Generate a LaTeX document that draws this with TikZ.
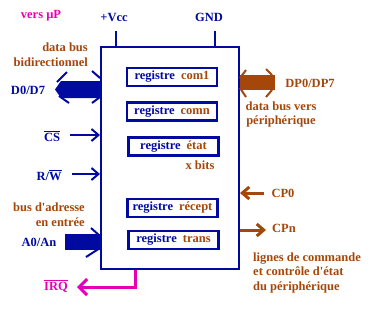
\documentclass[tikz,border=0pt]{standalone}
\usepackage{fontspec}
\setmainfont{Liberation Serif}
\usepackage{textcomp}
\usetikzlibrary{arrows.meta}
\definecolor{bleu}{RGB}{0,10,160}
\definecolor{brun}{RGB}{165,70,10}
\definecolor{rose}{RGB}{230,0,180}
\tikzset{
  txt/.style={font=\fontsize{12.5}{14.5}\selectfont\bfseries, inner sep=0pt},
  reg/.style={txt, draw=bleu, line width=2.5pt, minimum width=90pt, minimum height=18pt},
  fil/.style={line width=2pt, -{Straight Barb[length=7pt,width=12pt]}},
  chevron/.style={line width=2pt},
}
\begin{document}
\begin{tikzpicture}[x=1pt,y=-1pt]
  \useasboundingbox (0,0) rectangle (379,314);

  % Boitier du circuit
  \node[draw=bleu, line width=2pt, minimum width=138pt, minimum height=222pt, inner sep=0pt] (boitier) at (170,158) {};

  % Registres internes
  \node[reg] (com1) at (172,77) {\textcolor{bleu}{registre}\hspace{6pt}\textcolor{brun}{com1}};
  \node[reg] (comn) at (172,111.5) {\textcolor{bleu}{registre}\hspace{6pt}\textcolor{brun}{comn}};
  \node[reg] (etat) at (173.5,146.5) {\textcolor{bleu}{registre}\hspace{6pt}\textcolor{brun}{état}};
  \node[reg] (recept) at (172.5,208) {\textcolor{bleu}{registre}\hspace{6pt}\textcolor{brun}{récept}};
  \node[reg] (trans) at (173.5,240) {\textcolor{bleu}{registre}\hspace{6pt}\textcolor{brun}{trans}};
  \node[txt, brun] (xbits) at (200,165) {x bits};

  % Alimentation
  \node[txt, rose] (versmp) at (41,16) {vers µP};
  \node[txt, bleu] (vcc) at (114,17) {+Vcc};
  \node[txt, bleu] (gnd) at (209,17) {GND};
  \coordinate (vccpin) at (116,31);
  \coordinate (gndpin) at (215,31);
  \draw[bleu, line width=2pt] (vccpin) -- (vccpin |- boitier.north);
  \draw[bleu, line width=2pt] (gndpin) -- (gndpin |- boitier.north);

  % Bus de donnees cote microprocesseur
  \node[txt, brun, align=right, anchor=east] (dbus) at (88,54.5) {data bus\\bidirectionnel};
  \node[txt, bleu] (d0d7) at (28,90) {D0/D7};
  \fill[bleu] (55,89.5) -- (61,81) -- (100,81) -- (100,98) -- (61,98) -- cycle;
  \draw[bleu, chevron] (67,72) -- (57,82) (59,96) -- (69,103) (92,71) -- (100,78) (92,103) -- (100,97);

  % Signaux de controle
  \node[txt, bleu] (cs) at (52,136) {$\overline{\hbox{CS}}$};
  \node[txt, bleu] (rw) at (49,175) {R/$\overline{\hbox{W}}$};
  \coordinate (cspin) at (70,135);
  \coordinate (rwpin) at (72,174);
  \draw[bleu, fil] (cspin) -- (cspin -| boitier.west);
  \draw[bleu, fil] (rwpin) -- (rwpin -| boitier.west);

  % Bus d'adresse
  \node[txt, brun, align=right, anchor=east] (adr) at (85,214.5) {bus d\textquotesingle adresse\\en entrée};
  \node[txt, bleu] (a0an) at (39,242) {A0/An};
  \fill[bleu] (65,234) rectangle (100,250);
  \draw[bleu, chevron] (91,228) -- (100,236) (100,248) -- (86,257);

  % Interruption
  \node[txt, rose] (irq) at (56,286) {$\overline{\hbox{IRQ}}$};
  \coordinate (irqpin) at (135,287);
  \coordinate (irqfin) at (77,287);
  \draw[rose, line width=3pt, -{Straight Barb[length=8pt,width=16pt]}] (irqpin |- boitier.south) -- (irqpin) -- (irqfin);

  % Bus de donnees cote peripherique
  \node[txt, brun] (dp) at (310,83) {DP0/DP7};
  \node[txt, brun, align=center] (dbusp) at (281,114.5) {data bus vers\\périphérique};
  \fill[brun] (240,75) rectangle (275,90);
  \draw[brun, chevron] (246,70) -- (240,78) (240,88) -- (246,97) (266,69) -- (272,75) (272,90) -- (266,97);

  % Lignes du peripherique
  \node[txt, brun] (cp0) at (283,193) {CP0};
  \node[txt, brun] (cpn) at (284,228) {CPn};
  \coordinate (cp0pin) at (264,193);
  \coordinate (cpnpin) at (266,230);
  \draw[brun, fil, line width=3pt] (cp0pin) -- (cp0pin -| boitier.east);
  \draw[brun, fil, line width=3pt] (cpnpin -| boitier.east) -- (cpnpin);
  \node[txt, brun, align=left, anchor=west] (lignes) at (253,272.5) {lignes de commande\\et contrôle d\textquotesingle état\\du périphérique};

\end{tikzpicture}
\end{document}
